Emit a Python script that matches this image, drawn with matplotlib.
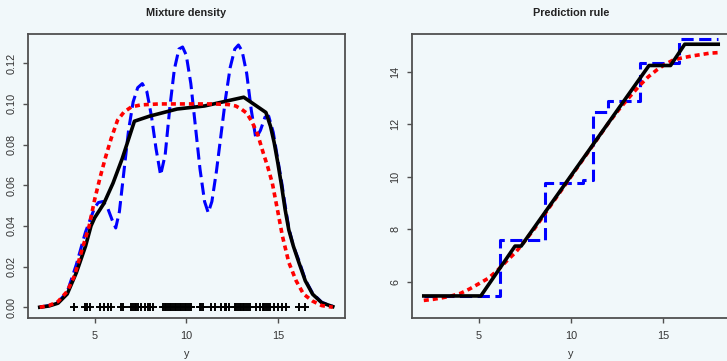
import matplotlib.pyplot as plt

# --- data ---
rug_y = [3.87, 4.45, 4.58, 4.73, 5.27, 5.49, 5.73, 5.91, 6.46, 6.55, 7.0, 7.09,
         7.18, 7.27, 7.36, 7.55, 7.73, 7.91, 8.04, 8.18, 8.73, 8.82, 8.91, 9.0,
         9.09, 9.18, 9.27, 9.36, 9.46, 9.55, 9.64, 9.73, 9.82, 9.91, 10.0, 10.09,
         10.18, 10.27, 10.73, 10.82, 10.91, 11.37, 11.55, 11.91, 12.09, 12.18,
         12.33, 12.64, 12.73, 12.82, 12.91, 13.0, 13.09, 13.18, 13.27, 13.36,
         13.46, 13.82, 14.0, 14.18, 14.27, 14.37, 14.46, 14.55, 14.79, 15.0,
         15.22, 15.46, 16.18, 16.46]

dens_blue_x = [2.0, 2.5, 3.0, 3.5, 4.0, 4.5, 5.0, 5.2, 5.45, 5.7, 5.95, 6.15, 6.35,
               6.6, 6.85, 7.1, 7.35, 7.6, 7.85, 8.1, 8.35, 8.6, 8.85, 9.1, 9.35,
               9.6, 9.8, 10.0, 10.25, 10.5, 10.75, 11.0, 11.2, 11.4, 11.65, 11.9,
               12.15, 12.4, 12.65, 12.85, 13.05, 13.3, 13.55, 13.8, 14.05, 14.3,
               14.5, 14.75, 15.0, 15.2, 15.4, 15.6, 15.85, 16.15, 16.5, 16.9, 17.4,
               18.0]
dens_blue_y = [0.0, 0.0008, 0.0025, 0.0075, 0.021, 0.037, 0.049, 0.0515, 0.052,
               0.049, 0.043, 0.039, 0.047, 0.067, 0.087, 0.101, 0.108, 0.110,
               0.106, 0.094, 0.078, 0.065, 0.075, 0.098, 0.117, 0.127, 0.128,
               0.124, 0.110, 0.089, 0.068, 0.052, 0.0465, 0.052, 0.067, 0.085,
               0.103, 0.118, 0.127, 0.129, 0.126, 0.115, 0.097, 0.083, 0.087,
               0.0935, 0.094, 0.086, 0.0725, 0.062, 0.050, 0.039, 0.030, 0.023,
               0.0135, 0.0068, 0.0024, 0.0004]

dens_black_x = [2.0, 2.5, 3.0, 3.5, 4.0, 4.5, 4.8, 5.0, 5.5, 6.0, 6.5, 7.17, 8.0,
                9.5, 11.0, 13.14, 14.35, 14.6, 14.8, 15.0, 15.2, 15.4, 15.6, 15.85,
                16.15, 16.5, 16.9, 17.4, 18.0]
dens_black_y = [0.0, 0.0006, 0.002, 0.0065, 0.017, 0.030, 0.040, 0.044, 0.051,
                0.061, 0.073, 0.0915, 0.094, 0.0975, 0.099, 0.1033, 0.0958, 0.089,
                0.081, 0.071, 0.060, 0.048, 0.038, 0.030, 0.022, 0.013, 0.0064,
                0.0022, 0.0003]

dens_red_x = [2.0, 2.5, 3.0, 3.5, 3.9, 4.3, 4.7, 5.0, 5.3, 5.6, 5.9, 6.25, 6.6,
              7.0, 7.5, 8.5, 10.0, 11.5, 12.3, 12.7, 13.0, 13.3, 13.6, 13.9, 14.2,
              14.45, 14.7, 15.0, 15.25, 15.6, 16.0, 16.4, 16.9, 17.4, 18.0]
dens_red_y = [0.0, 0.0008, 0.0028, 0.0078, 0.0155, 0.028, 0.040, 0.053, 0.064,
              0.074, 0.083, 0.092, 0.096, 0.0985, 0.0995, 0.1, 0.1, 0.1, 0.0997,
              0.099, 0.0975, 0.0955, 0.091, 0.085, 0.076, 0.069, 0.061, 0.047,
              0.035, 0.022, 0.013, 0.0065, 0.003, 0.0008, 0.0]

rule_black_x = [2.0, 5.1, 6.96, 7.29, 14.24, 15.41, 16.18, 18.0]
rule_black_y = [5.45, 5.45, 7.35, 7.35, 14.23, 14.23, 15.04, 15.04]

rule_blue_x = [2.0, 6.13, 8.58, 10.65, 11.18, 12.03, 13.76, 15.87, 18.0]
rule_blue_y = [5.43, 7.58, 9.74, 9.86, 12.45, 12.88, 14.33, 15.24, 15.24]

rule_red_x = [2.0, 2.5, 3.0, 3.5, 4.0, 4.5, 5.0, 5.5, 6.0, 6.5, 7.0, 7.5, 8.0,
              9.0, 10.0, 11.0, 12.0, 12.6, 13.2, 13.76, 14.2, 14.66, 15.1, 15.56,
              16.1, 16.64, 17.1, 17.54, 18.0]
rule_red_y = [5.28, 5.32, 5.38, 5.45, 5.55, 5.72, 5.92, 6.12, 6.42, 6.78, 7.12,
              7.55, 8.0, 9.0, 10.0, 11.0, 12.0, 12.55, 13.05, 13.49, 13.8, 14.06,
              14.27, 14.44, 14.53, 14.60, 14.65, 14.70, 14.72]

dens_yticks = [0.0, 0.02, 0.04, 0.06, 0.08, 0.10, 0.12]
rule_yticks = [6, 8, 10, 12, 14]
xticks = [5, 10, 15]

plt.rcParams["font.family"] = ["Liberation Sans", "DejaVu Sans"]
BG = "#f1f8fa"
BLUE_DASH = (4.0, 1.8)
RED_DASH = (1.4, 1.1)

fig = plt.figure(figsize=(7.27, 3.61), dpi=100, facecolor=BG)
ax1 = fig.add_axes([28 / 727, 1 - 318 / 361, 316.5 / 727, 284 / 361])
ax2 = fig.add_axes([412 / 727, 1 - 318 / 361, 318 / 727, 284 / 361])


def style(ax, title):
    ax.set_facecolor(BG)
    for sp in ax.spines.values():
        sp.set_color("#505050")
        sp.set_linewidth(1.3)
    ax.tick_params(direction="out", length=3.8, width=1.0, color="#505050",
                   labelsize=7.8, labelcolor="#333333", pad=4.5)
    ax.tick_params(axis="x", pad=5.5)
    for lab in ax.get_yticklabels():
        lab.set_rotation(90)
        lab.set_va("center")
    ax.set_xticks(xticks)
    ax.set_xlim(1.36, 18.64)
    ax.set_title(title, fontsize=7.8, fontweight="bold", color="#222222", pad=13)
    ax.set_xlabel("y", fontsize=7.8, color="#333333", labelpad=6)


# --- left panel: mixture density ---
l, = ax1.plot(dens_blue_x, dens_blue_y, color="#0000ff", lw=2.2, dash_capstyle="butt")
l.set_dashes(BLUE_DASH)
ax1.plot(dens_black_x, dens_black_y, color="black", lw=2.6)
l, = ax1.plot(dens_red_x, dens_red_y, color="#ff0000", lw=2.6, dash_capstyle="butt")
l.set_dashes(RED_DASH)
ax1.plot(rug_y, [0] * len(rug_y), "+", color="black", ms=6, mew=1.4)
ax1.set_yticks(dens_yticks)
ax1.set_yticklabels([f"{v:.2f}" for v in dens_yticks])
ax1.set_ylim(-0.0053, 0.1344)
style(ax1, "Mixture density")

# --- right panel: prediction rule ---
l, = ax2.plot(rule_blue_x, rule_blue_y, color="#0000ff", lw=2.2,
              drawstyle="steps-post", dash_capstyle="butt")
l.set_dashes(BLUE_DASH)
l, = ax2.plot(rule_red_x, rule_red_y, color="#ff0000", lw=2.6, dash_capstyle="butt")
l.set_dashes(RED_DASH)
ax2.plot(rule_black_x, rule_black_y, color="black", lw=2.6)
ax2.set_yticks(rule_yticks)
ax2.set_ylim(4.61, 15.43)
style(ax2, "Prediction rule")

fig.savefig("out.png", dpi=100, facecolor=BG)
